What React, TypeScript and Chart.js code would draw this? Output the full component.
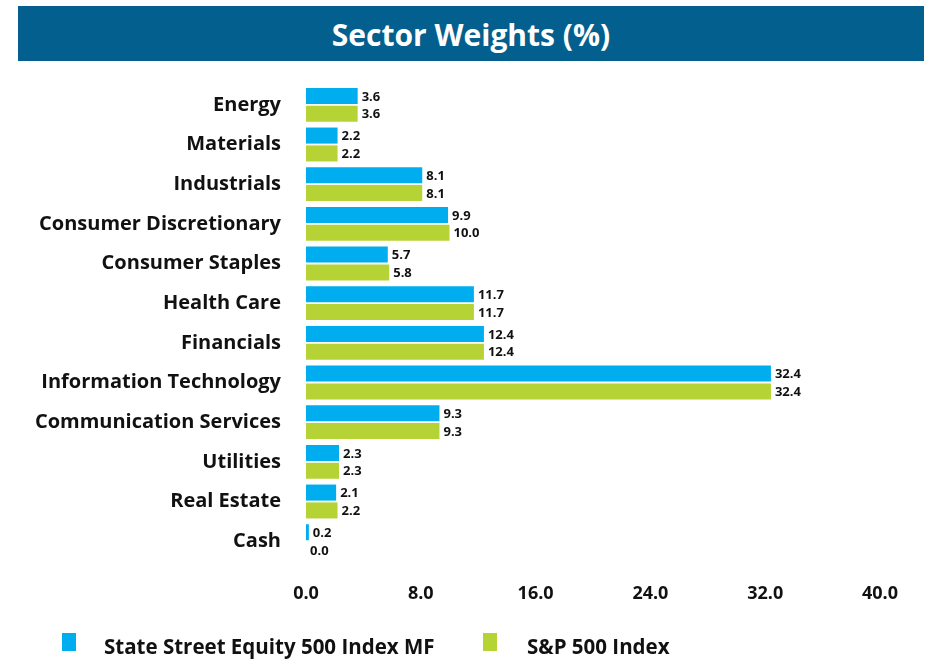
import React, { useEffect, useRef } from "react";
import { Chart, registerables } from "chart.js";

Chart.register(...registerables);

const categories = [
  "Energy",
  "Materials",
  "Industrials",
  "Consumer Discretionary",
  "Consumer Staples",
  "Health Care",
  "Financials",
  "Information Technology",
  "Communication Services",
  "Utilities",
  "Real Estate",
  "Cash",
];
const fundValues = [3.6, 2.2, 8.1, 9.9, 5.7, 11.7, 12.4, 32.4, 9.3, 2.3, 2.1, 0.2];
const indexValues = [3.6, 2.2, 8.1, 10.0, 5.8, 11.7, 12.4, 32.4, 9.3, 2.3, 2.2, 0.0];
const seriesNames = ["State Street Equity 500 Index MF", "S&P 500 Index"];
const xTicks = [0, 8, 16, 24, 32, 40];

const BLUE = "#00AEEF";
const GREEN = "#B5D334";
const FONT = "'Open Sans'";

const labelPlugin = {
  id: "barLabels",
  afterDatasetsDraw(chart: any) {
    const ctx = chart.ctx;
    ctx.save();
    ctx.font = `bold 13px ${FONT}`;
    ctx.fillStyle = "#111";
    ctx.textAlign = "left";
    ctx.textBaseline = "middle";
    chart.data.datasets.forEach((ds: any, di: number) => {
      const meta = chart.getDatasetMeta(di);
      meta.data.forEach((bar: any, i: number) => {
        const v = ds.data[i];
        ctx.fillText(v.toFixed(1), bar.x + 4, bar.y + 1);
      });
    });
    ctx.restore();
  },
};

export default function App() {
  const ref = useRef<HTMLCanvasElement>(null);
  useEffect(() => {
    const chart = new Chart(ref.current!, {
      type: "bar",
      data: {
        labels: categories,
        datasets: [
          { label: seriesNames[0], data: fundValues, backgroundColor: BLUE, categoryPercentage: 0.9, barPercentage: 0.9 },
          { label: seriesNames[1], data: indexValues, backgroundColor: GREEN, categoryPercentage: 0.9, barPercentage: 0.9 },
        ],
      },
      options: {
        indexAxis: "y",
        animation: false,
        responsive: false,
        maintainAspectRatio: false,
        layout: { padding: { left: 0, right: 54, top: 11, bottom: 0 } },
        plugins: { legend: { display: false }, tooltip: { enabled: false } },
        scales: {
          x: {
            min: 0,
            max: 40,
            afterBuildTicks: (axis: any) => {
              axis.ticks = xTicks.map((v) => ({ value: v }));
            },
            afterFit: (axis: any) => {
              axis.height = 49;
            },
            grid: { display: false, drawTicks: false },
            border: { display: false },
            ticks: {
              padding: 22,
              color: "#111",
              font: { family: FONT, weight: "bold", size: 18 },
              callback: (v: any) => Number(v).toFixed(1),
            },
          },
          y: {
            afterFit: (axis: any) => {
              axis.width = 306;
            },
            grid: { display: false, drawTicks: false },
            border: { display: false },
            ticks: {
              padding: 25,
              color: "#111",
              font: { family: FONT, weight: "bold", size: 20 },
            },
          },
        },
      },
      plugins: [labelPlugin],
    });
    return () => chart.destroy();
  }, []);

  const legendText: React.CSSProperties = {
    position: "absolute",
    top: 633,
    fontFamily: FONT,
    fontWeight: "bold",
    fontSize: 20.5,
    color: "#111",
    lineHeight: "26px",
    whiteSpace: "nowrap",
  };

  return (
    <div style={{ position: "fixed", left: 0, top: 0, width: 934, height: 659, background: "#fff" }}>
      <div
        style={{
          position: "absolute",
          left: 18,
          top: 6,
          width: 906,
          height: 55,
          background: "#035F8E",
          color: "#fff",
          fontFamily: FONT,
          fontWeight: "bold",
          fontSize: 30,
          lineHeight: "57px",
          textAlign: "center",
        }}
      >
        Sector Weights (%)
      </div>
      <canvas ref={ref} width={934} height={562} style={{ position: "absolute", left: 0, top: 48 }} />
      <div style={{ position: "absolute", left: 62, top: 633, width: 14, height: 18, background: BLUE }} />
      <div style={{ ...legendText, left: 104 }}>{seriesNames[0]}</div>
      <div style={{ position: "absolute", left: 483, top: 633, width: 14, height: 18, background: GREEN }} />
      <div style={{ ...legendText, left: 527 }}>{seriesNames[1]}</div>
    </div>
  );
}
